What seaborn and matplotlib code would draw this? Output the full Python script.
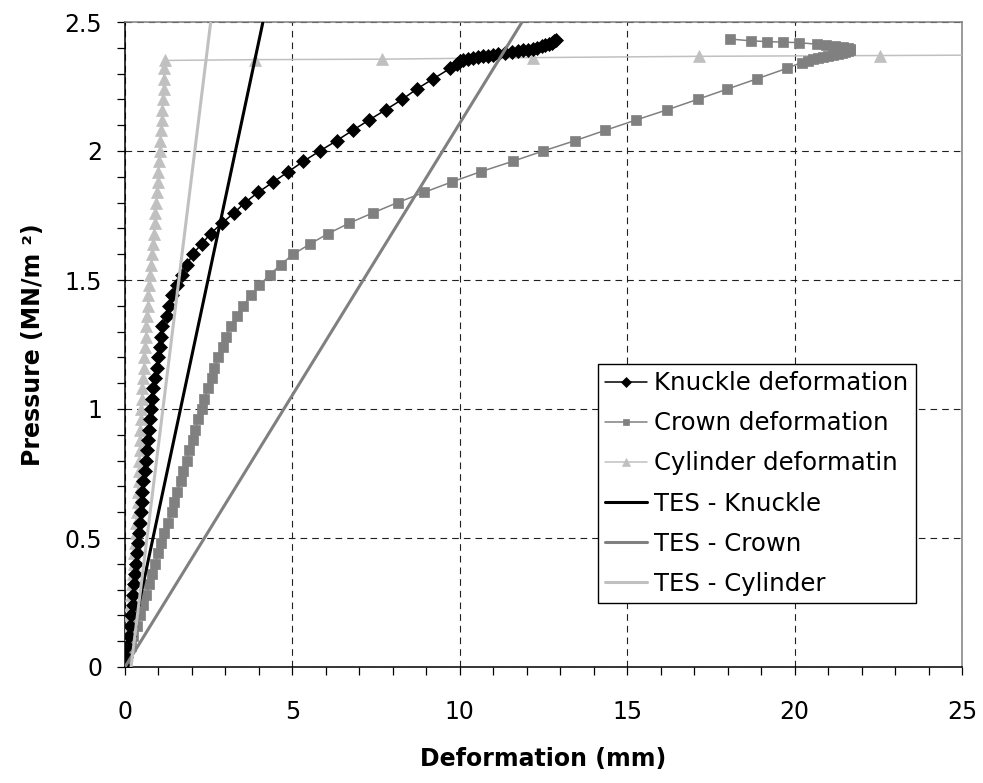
import numpy as np
import pandas as pd
import matplotlib
matplotlib.use("Agg")
import matplotlib.pyplot as plt
from matplotlib.ticker import MultipleLocator
import seaborn as sns

# ---------------- data ----------------
pressure_steps = [0.00, 0.04, 0.08, 0.12, 0.16, 0.20, 0.24, 0.28, 0.32, 0.36,
                  0.40, 0.44, 0.48, 0.52, 0.56, 0.60, 0.64, 0.68, 0.72, 0.76,
                  0.80, 0.84, 0.88, 0.92, 0.96, 1.00, 1.04, 1.08, 1.12, 1.16,
                  1.20, 1.24, 1.28, 1.32, 1.36, 1.40, 1.44, 1.48, 1.52, 1.56,
                  1.60, 1.64, 1.68, 1.72, 1.76, 1.80, 1.84, 1.88, 1.92, 1.96,
                  2.00, 2.04, 2.08, 2.12, 2.16, 2.20, 2.24, 2.28, 2.32]

knuckle_x_main = [0.00, 0.03, 0.07, 0.11, 0.15, 0.19, 0.23, 0.25, 0.27, 0.30,
                  0.33, 0.35, 0.40, 0.43, 0.45, 0.47, 0.50, 0.52, 0.55, 0.60,
                  0.63, 0.65, 0.70, 0.73, 0.75, 0.77, 0.80, 0.83, 0.90, 0.95,
                  1.00, 1.05, 1.09, 1.12, 1.24, 1.32, 1.39, 1.54, 1.69, 1.86,
                  2.02, 2.29, 2.56, 2.89, 3.26, 3.58, 3.98, 4.43, 4.88, 5.33,
                  5.82, 6.32, 6.80, 7.29, 7.79, 8.28, 8.71, 9.21, 9.71]
knuckle_x_top = [9.91, 10.00, 10.10, 10.25, 10.40, 10.55, 10.70, 10.85, 11.00,
                 11.15, 11.35, 11.55, 11.75, 11.90, 12.05, 12.20, 12.32, 12.45,
                 12.55, 12.65, 12.75, 12.82, 12.87]
knuckle_p_top = [2.339, 2.347, 2.352, 2.356, 2.360, 2.364, 2.367, 2.370, 2.373,
                 2.376, 2.380, 2.384, 2.387, 2.390, 2.393, 2.397, 2.401, 2.406,
                 2.410, 2.415, 2.420, 2.425, 2.430]

crown_x_main = [0.00, 0.07, 0.17, 0.25, 0.37, 0.45, 0.55, 0.63, 0.73, 0.80,
                0.90, 0.99, 1.07, 1.16, 1.29, 1.39, 1.47, 1.56, 1.66, 1.74,
                1.84, 1.91, 2.02, 2.09, 2.19, 2.29, 2.37, 2.49, 2.59, 2.67,
                2.79, 2.94, 3.02, 3.16, 3.34, 3.53, 3.75, 4.01, 4.33, 4.65,
                5.03, 5.53, 6.07, 6.69, 7.40, 8.14, 8.94, 9.76, 10.63, 11.58,
                12.49, 13.44, 14.34, 15.26, 16.20, 17.10, 17.99, 18.88, 19.76]
crown_x_top = [20.21, 20.40, 20.55, 20.70, 20.85, 21.00, 21.15, 21.30, 21.42,
               21.52, 21.60, 21.65, 21.66, 21.60, 21.45, 21.20, 20.95, 20.66,
               20.13, 19.64, 19.18, 18.70, 18.07]
crown_p_top = [2.343, 2.350, 2.355, 2.359, 2.363, 2.367, 2.371, 2.375, 2.379,
               2.383, 2.387, 2.391, 2.395, 2.399, 2.403, 2.407, 2.410, 2.414,
               2.420, 2.422, 2.424, 2.427, 2.434]

cylinder_x_main = [0.00, 0.02, 0.04, 0.06, 0.08, 0.11, 0.14, 0.17, 0.20, 0.23,
                   0.26, 0.28, 0.30, 0.32, 0.34, 0.36, 0.38, 0.39, 0.41, 0.42,
                   0.43, 0.44, 0.45, 0.46, 0.47, 0.48, 0.50, 0.52, 0.54, 0.56,
                   0.58, 0.60, 0.62, 0.64, 0.66, 0.68, 0.70, 0.73, 0.76, 0.78,
                   0.81, 0.84, 0.86, 0.89, 0.91, 0.94, 0.96, 0.98, 1.00, 1.02,
                   1.04, 1.06, 1.08, 1.10, 1.12, 1.14, 1.15, 1.16, 1.17]
cylinder_x_top = [1.19, 3.88, 7.69, 12.20, 17.15, 22.55, 27.90]
cylinder_p_top = [2.351, 2.354, 2.356, 2.362, 2.367, 2.370, 2.373]

tes_knuckle_x = [0.36, 4.12]
tes_knuckle_p = [0.21, 2.50]
tes_crown_x = [0.00, 11.86]
tes_crown_p = [0.00, 2.50]
tes_cylinder_x = [0.18, 2.56]
tes_cylinder_p = [0.00, 2.50]

x_ticks = [0, 5, 10, 15, 20, 25]
y_ticks = [0, 0.5, 1, 1.5, 2, 2.5]

# ---------------- tables ----------------
knuckle = pd.DataFrame({"x": knuckle_x_main + knuckle_x_top,
                        "p": pressure_steps + knuckle_p_top})
crown = pd.DataFrame({"x": crown_x_main + crown_x_top,
                      "p": pressure_steps + crown_p_top})
cylinder = pd.DataFrame({"x": cylinder_x_main + cylinder_x_top,
                         "p": pressure_steps + cylinder_p_top})

# ---------------- figure ----------------
sns.set_style("ticks")
plt.rcParams["font.family"] = ["DejaVu Sans"]
plt.rcParams["text.color"] = "black"
plt.rcParams["axes.labelcolor"] = "black"

fig = plt.figure(figsize=(9.83, 7.83), dpi=100)
ax = fig.add_axes([125 / 983, 1 - 667 / 783, 837 / 983, 645 / 783])

BLACK = "#000000"
GRAY = "#808080"
LIGHT = "#C0C0C0"

sns.lineplot(data=knuckle, x="x", y="p", sort=False, estimator=None, ax=ax,
             color=BLACK, linewidth=1.1, marker="D", markersize=6.8,
             markeredgecolor=BLACK, markeredgewidth=0.5,
             label="Knuckle deformation", zorder=5)
sns.lineplot(data=crown, x="x", y="p", sort=False, estimator=None, ax=ax,
             color=GRAY, linewidth=1.1, marker="s", markersize=6.5,
             markeredgecolor=GRAY, markeredgewidth=0.5,
             label="Crown deformation", zorder=4)
sns.lineplot(data=cylinder, x="x", y="p", sort=False, estimator=None, ax=ax,
             color=LIGHT, linewidth=1.1, marker="^", markersize=8,
             markeredgecolor=LIGHT, markeredgewidth=0.5,
             label="Cylinder deformatin", zorder=3)
sns.lineplot(x=tes_knuckle_x, y=tes_knuckle_p, sort=False, estimator=None, ax=ax,
             color=BLACK, linewidth=2.2, label="TES - Knuckle", zorder=6)
sns.lineplot(x=tes_crown_x, y=tes_crown_p, sort=False, estimator=None, ax=ax,
             color=GRAY, linewidth=2.2, label="TES - Crown", zorder=6)
sns.lineplot(x=tes_cylinder_x, y=tes_cylinder_p, sort=False, estimator=None, ax=ax,
             color=LIGHT, linewidth=2.2, label="TES - Cylinder", zorder=6)

ax.set_xlim(0, 25)
ax.set_ylim(0, 2.5)
ax.set_xticks(x_ticks)
ax.set_yticks(y_ticks)
ax.set_xticklabels([str(v) for v in x_ticks])
ax.set_yticklabels(["0", "0.5", "1", "1.5", "2", "2.5"])
ax.xaxis.set_minor_locator(MultipleLocator(1))
ax.yaxis.set_minor_locator(MultipleLocator(0.1))

ax.tick_params(axis="both", which="both", direction="out", length=5.5,
               width=0.9, color=BLACK, labelsize=17, labelcolor=BLACK)
ax.tick_params(axis="x", which="major", pad=18)
ax.tick_params(axis="y", which="major", pad=11)

ax.grid(True, which="major", color="#202020", linewidth=0.8,
        linestyle=(0, (6, 4.5)))
ax.set_axisbelow(True)

for side in ["left", "bottom"]:
    ax.spines[side].set_color(BLACK)
    ax.spines[side].set_linewidth(1.1)
for side in ["top", "right"]:
    ax.spines[side].set_color(GRAY)
    ax.spines[side].set_linewidth(1.1)

ax.set_xlabel("Deformation (mm)", fontsize=17, fontweight="bold",
              labelpad=17, color=BLACK)
ax.set_ylabel("Pressure (MN/m \u00b2)", fontsize=17, fontweight="bold",
              labelpad=14, color=BLACK)

leg = ax.legend(loc="upper left", bbox_to_anchor=(0.565, 0.470),
                frameon=True, fancybox=False, edgecolor=BLACK, framealpha=1,
                fontsize=17.6, handlelength=1.7, handletextpad=0.3,
                labelspacing=0.66, borderpad=0.3, borderaxespad=0,
                markerscale=0.7)
leg.get_frame().set_linewidth(1.0)
for t in leg.get_texts():
    t.set_color(BLACK)

fig.savefig("out.png", dpi=100)
